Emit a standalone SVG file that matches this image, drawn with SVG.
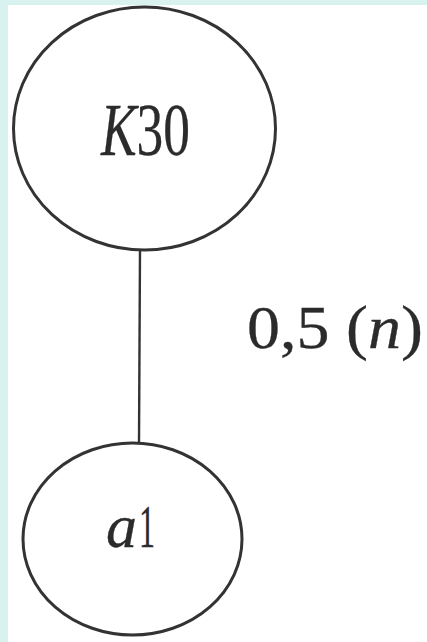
<svg xmlns="http://www.w3.org/2000/svg" width="427" height="642" viewBox="0 0 427 642">
<style>
.node{fill:none;stroke:#333333;stroke-width:3}
.edge{stroke:#333333;stroke-width:2.4;fill:none}
.t{font-family:"Liberation Serif","Times New Roman",serif;fill:#2b2b2b;stroke:#2b2b2b;stroke-width:0.3}
.i{font-style:italic}
</style>
<rect x="0" y="0" width="427" height="642" fill="#d7f2ef"/>
<rect x="8" y="5" width="419" height="637" fill="#ffffff"/>
<g id="connectors">
<line class="edge" x1="140" y1="250" x2="139" y2="443"/>
<text class="t" x="247" y="348" font-size="62" textLength="176" lengthAdjust="spacingAndGlyphs">0,5 (<tspan class="i">n</tspan>)</text>
</g>
<g id="K30">
<ellipse class="node" cx="144.5" cy="128.5" rx="131" ry="121.5"/>
<text class="t" x="101" y="155" font-size="74" textLength="89" lengthAdjust="spacingAndGlyphs"><tspan class="i">K</tspan>30</text>
</g>
<g id="a1">
<ellipse class="node" cx="132.5" cy="539" rx="109.5" ry="96"/>
<text class="t i" x="106" y="547" font-size="62" textLength="31" lengthAdjust="spacingAndGlyphs">a</text>
<text class="t" x="139" y="547" font-size="62" textLength="16" lengthAdjust="spacingAndGlyphs">1</text>
</g>
</svg>
